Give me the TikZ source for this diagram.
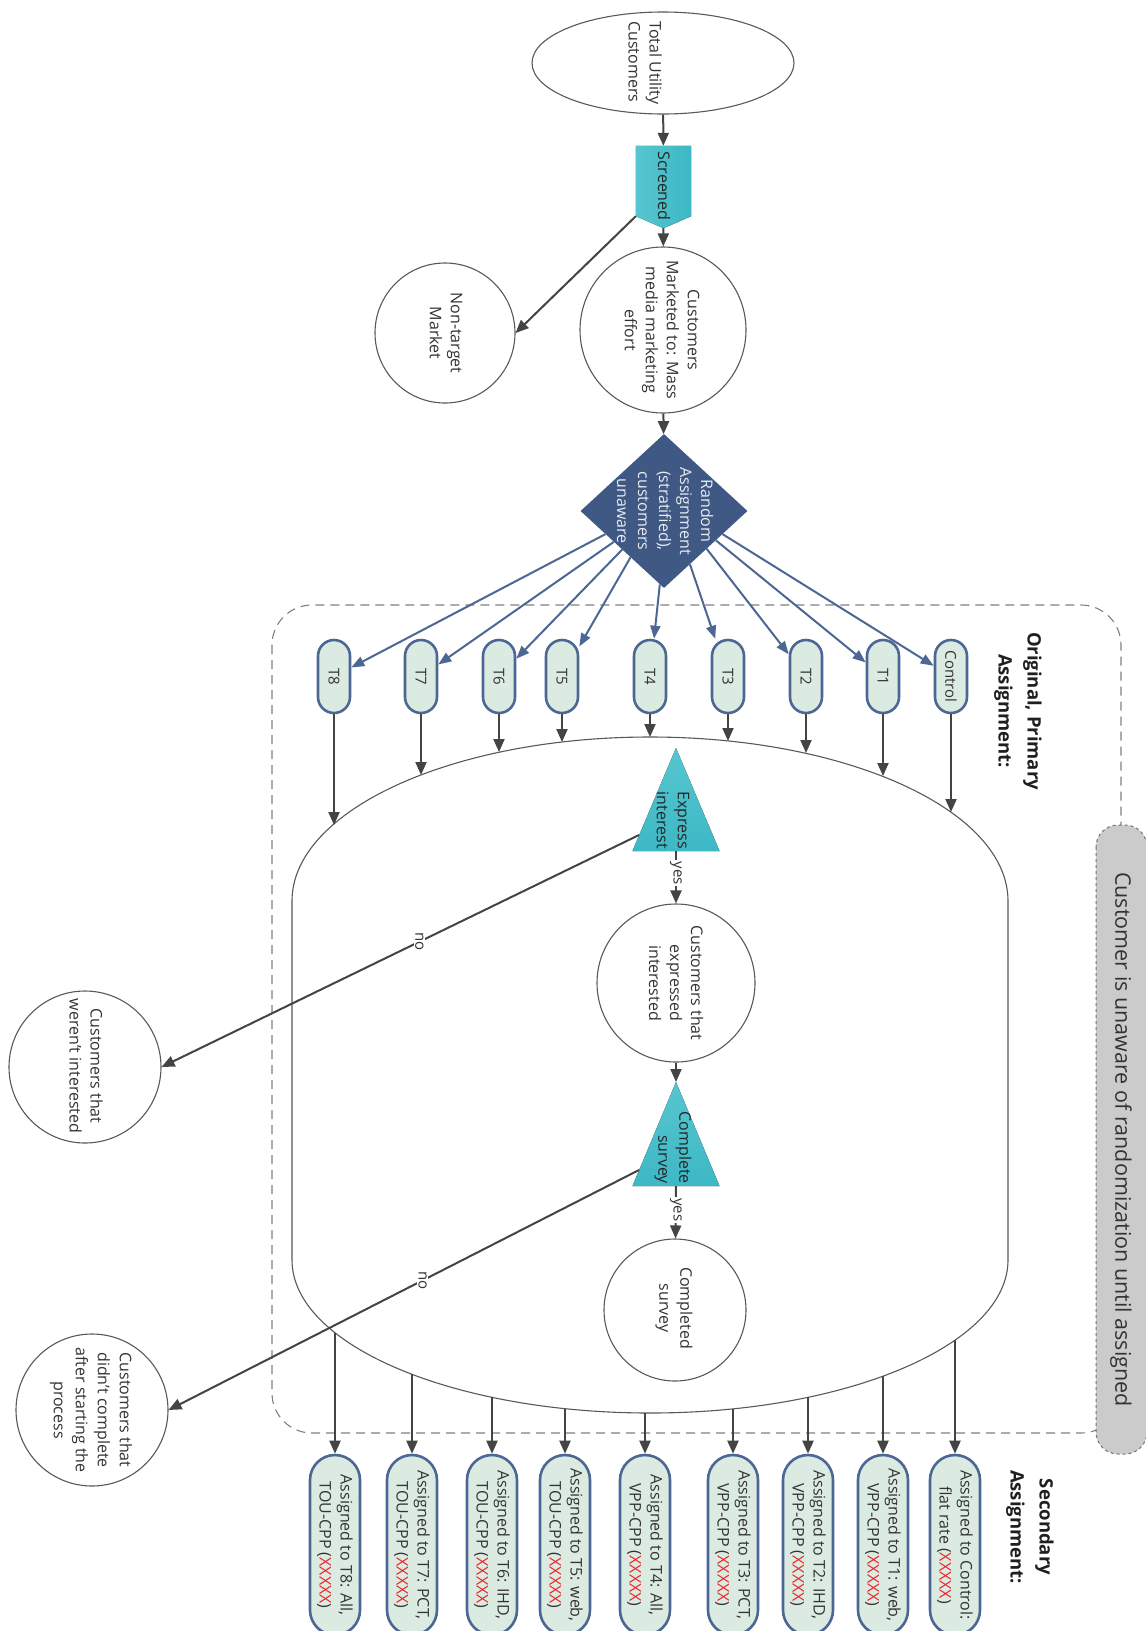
\documentclass[tikz,border=0pt]{standalone}
\usepackage{fontspec}
\setmainfont{Open Sans}
\usetikzlibrary{shapes.geometric,arrows.meta,calc}
\definecolor{teal1}{HTML}{56C6D0}
\definecolor{teal2}{HTML}{3DB8C5}
\definecolor{navy}{HTML}{3F5884}
\definecolor{pillblue}{HTML}{4D6795}
\definecolor{pillfill}{HTML}{DCEBE1}
\definecolor{arrgray}{HTML}{444444}
\definecolor{txt}{HTML}{333333}
\definecolor{xred}{HTML}{E8262B}
\definecolor{awaregray}{HTML}{CBCBCB}
\begin{document}
\begin{tikzpicture}[x=1pt,y=-1pt,
  every node/.style={text=txt, font=\fontsize{16}{21}\selectfont, inner sep=0pt},
  garr/.style={draw=arrgray, line width=2pt, -{Triangle[length=13pt,width=11pt]}},
  barr/.style={draw=pillblue, line width=2pt, -{Triangle[length=13pt,width=10pt]}},
  circ/.style={circle, draw=black!65, line width=1.1pt},
  rtext/.style={rotate=-90, align=center},
  toppill/.style={rectangle, rounded corners=16pt, draw=pillblue, line width=2.6pt, fill=pillfill,
     rotate=-90, minimum width=73pt, minimum height=32pt, font=\fontsize{15}{17}\selectfont},
  botpill/.style={rectangle, rounded corners=25pt, draw=pillblue, line width=2.6pt, fill=pillfill,
     rotate=-90, minimum width=180pt, minimum height=50pt, align=center, font=\fontsize{16}{21}\selectfont},
  lbl/.style={rotate=-90, fill=white, inner sep=1.5pt, font=\fontsize{15}{18}\selectfont},
  head/.style={rotate=-90, align=center, text=black!88, font=\bfseries\fontsize{18.5}{29}\selectfont}
]
\useasboundingbox (0,0) rectangle (1146,1631);
\clip (0,0) rectangle (1146,1631);
\fill[white] (0,0) rectangle (1146,1631);

% dashed region
\draw[black!50, line width=1.1pt, dash pattern=on 9pt off 6pt, rounded corners=40pt] (272,605) rectangle (1121,1433);

% big container shape
\draw[black!65, line width=1.1pt] (292,901) arc[start angle=180, end angle=0, x radius=358pt, y radius=164pt]
  -- (1008,1260) arc[start angle=0, end angle=-180, x radius=358pt, y radius=153pt] -- cycle;

% gray side pill
\draw[draw=black!55, dashed, line width=1pt, rounded corners=22pt, fill=awaregray]
  (1096,825) rectangle (1147,1454);
\node[rotate=-90, font=\fontsize{21.5}{25}\selectfont] (aware) at (1121,1139.5)
  {Customer is unaware of randomization until assigned};

% headings
\node[head] (h1) at (1018,711) {Original, Primary\\Assignment:};
\node[head] (h2) at (1030,1527) {Secondary\\Assignment:};

% top part
\node[ellipse, draw=black!65, line width=1.1pt, minimum width=262pt, minimum height=102pt] (tuc) at (663,63) {};
\node[rotate=-90, align=left] at (645,63) {Total Utility\\Customers};

\node[minimum width=55pt, minimum height=82pt] (scr) at (663.5,187) {};
\coordinate (scrc) at ($(scr.south west)+(0,-12)$);
\fill[left color=teal1, right color=teal2] (scr.north west) -- (scr.north east) -- ($(scr.south east)+(0,-12)$)
  -- (scr.south) -- (scrc) -- cycle;
\node[rotate=-90, text=black!85] at (664,186) {Screened};

\node[circ, minimum size=166pt] (mkt) at (663,330) {};
\node[rtext] at (662,330) {Customers\\Marketed to: Mass\\media marketing\\effort};

\node[circ, minimum size=140pt] (nt) at (445,333) {};
\node[rtext] at (446,333) {Non-target\\Market};

\node[diamond, fill=navy, minimum width=167pt, minimum height=154pt] (dia) at (664,511) {};
\node[rtext, text=white!88!navy] at (665,511) {Random\\Assignment\\(stratified),\\customers\\unaware};

\draw[garr] (tuc) -- (scr);
\draw[garr] (scr) -- (mkt);
\draw[garr] (scrc) -- (nt.east);
\draw[garr] (mkt) -- (dia);

% top pills
\node[toppill] (pC) at (951,676.5) {Control};
\node[toppill] (p1) at (883,676.5) {T1};
\node[toppill] (p2) at (806,676.5) {T2};
\node[toppill] (p3) at (728,676.5) {T3};
\node[toppill] (p4) at (650,676.5) {T4};
\node[toppill] (p5) at (562,676.5) {T5};
\node[toppill] (p6) at (499,676.5) {T6};
\node[toppill] (p7) at (421,676.5) {T7};
\node[toppill] (p8) at (334,676.5) {T8};

\coordinate (d8) at ($(dia.west)!0.30!(dia.south)$);
\coordinate (d7) at ($(dia.west)!0.40!(dia.south)$);
\coordinate (d6) at ($(dia.west)!0.50!(dia.south)$);
\coordinate (d5) at ($(dia.west)!0.60!(dia.south)$);
\coordinate (d4) at ($(dia.west)!0.95!(dia.south)$);
\coordinate (d3) at ($(dia.south)!0.31!(dia.east)$);
\coordinate (d2) at ($(dia.south)!0.51!(dia.east)$);
\coordinate (d1) at ($(dia.south)!0.62!(dia.east)$);
\coordinate (dC) at ($(dia.south)!0.70!(dia.east)$);
\foreach \i in {C,1,2,3,4,5,6,7,8} {\draw[barr] (d\i) -- (p\i);}

% entry points on container
\coordinate (t8) at (334,825);
\coordinate (t7) at (421,775);
\coordinate (t6) at (499,752);
\coordinate (t5) at (562,742);
\coordinate (t4) at (650,737);
\coordinate (t3) at (728,741);
\coordinate (t2) at (806,753);
\coordinate (t1) at (883,776);
\coordinate (tC) at (951,812);
\foreach \i in {C,1,2,3,4,5,6,7,8} {\draw[garr] (p\i) -- (t\i);}

% inside
\coordinate (ea) at (676,748);
\coordinate (ebl) at (632.5,851);
\coordinate (ebr) at (719.5,851);
\coordinate (eb) at (676,851);
\fill[top color=teal1, bottom color=teal2] (ea) -- (ebr) -- (ebl) -- cycle;
\node[rotate=-90, anchor=east, align=right, text=black!85] at (673,849) {Express\\interest};

\node[circ, minimum size=158pt] (ce) at (676,983) {};
\node[rtext] at (676,983) {Customers that\\expressed\\interested};

\coordinate (ca) at (676,1082);
\coordinate (cbl) at (632.5,1186);
\coordinate (cbr) at (719.5,1186);
\coordinate (cb) at (676,1186);
\fill[top color=teal1, bottom color=teal2] (ca) -- (cbr) -- (cbl) -- cycle;
\node[rotate=-90, anchor=east, align=right, text=black!85] at (673,1184) {Complete\\survey};

\node[circ, minimum size=142pt] (cd) at (675,1310) {};
\node[rtext] at (674,1308) {Completed\\survey};

\draw[garr] (eb) -- node[lbl, pos=0.42] {yes} (ce);
\draw[garr] (ce) -- (ca);
\draw[garr] (cb) -- node[lbl, pos=0.45] {yes} (cd);

\node[circ, minimum size=152pt] (ni) at (85,1067) {};
\node[rtext] at (86,1066) {Customers that\\weren’t interested};
\node[circ, minimum size=152pt] (nc) at (92,1410) {};
\node[rtext, font=\fontsize{16}{22}\selectfont] at (91,1410) {Customers that\\didn’t complete\\after starting the\\process};

\coordinate (eno) at (639,835);
\coordinate (cno) at (639,1170);
\draw[garr] (eno) -- node[lbl, pos=0.46] {no} (ni.east);
\draw[garr] (cno) -- node[lbl, pos=0.46] {no} (nc.east);

% exit points and secondary pills
\coordinate (b8) at (335,1333);
\coordinate (b7) at (412,1374);
\coordinate (b6) at (492,1397);
\coordinate (b5) at (565,1409);
\coordinate (b4) at (645,1413);
\coordinate (b3) at (733,1409);
\coordinate (b2) at (808,1397);
\coordinate (b1) at (883,1376);
\coordinate (bC) at (955,1340);

\node[botpill] (s8) at (335,1545) {Assigned to T8: All,\\TOU-CPP (\textcolor{xred}{XXXXX})};
\node[botpill] (s7) at (412,1545) {Assigned to T7: PCT,\\TOU-CPP (\textcolor{xred}{XXXXX})};
\node[botpill] (s6) at (492,1545) {Assigned to T6: IHD,\\TOU-CPP (\textcolor{xred}{XXXXX})};
\node[botpill] (s5) at (565,1545) {Assigned to T5: web,\\TOU-CPP (\textcolor{xred}{XXXXX})};
\node[botpill] (s4) at (645,1545) {Assigned to T4: All,\\VPP-CPP (\textcolor{xred}{XXXXX})};
\node[botpill] (s3) at (733,1545) {Assigned to T3: PCT,\\VPP-CPP (\textcolor{xred}{XXXXX})};
\node[botpill] (s2) at (808,1545) {Assigned to T2: IHD,\\VPP-CPP (\textcolor{xred}{XXXXX})};
\node[botpill] (s1) at (883,1545) {Assigned to T1: web,\\VPP-CPP (\textcolor{xred}{XXXXX})};
\node[botpill] (sC) at (955,1545) {Assigned to Control:\\flat rate (\textcolor{xred}{XXXXX})};
\foreach \i in {C,1,2,3,4,5,6,7,8} {\draw[garr] (b\i) -- (s\i);}
\end{tikzpicture}
\end{document}
